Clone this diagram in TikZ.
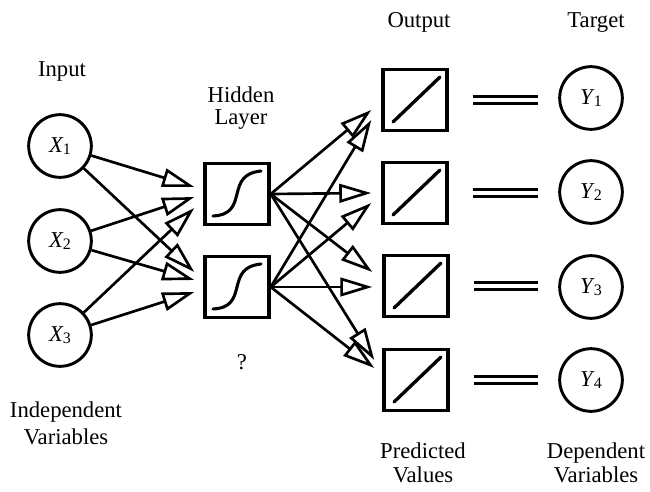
\documentclass[tikz,border=0pt]{standalone}
\usepackage{fontspec}
\setmainfont{Liberation Serif}
\usetikzlibrary{arrows.meta,calc}
\tikzset{
  sig/.pic={\draw[line width=2.3pt,line cap=round] (-24,22) .. controls (-6,21) and (-3,12) .. (0,0) .. controls (3,-12) and (6,-21) .. (24,-23);},
  lin/.pic={\draw[line width=2.5pt,line cap=round] (-22,22) -- (25,-23);}
}
\newcommand{\vlab}[2]{\textit{#1}\kern-0.8pt\raisebox{-0.25ex}{\fontsize{12}{14}\selectfont #2}}
\begin{document}
\begin{tikzpicture}[x=0.75pt,y=-0.75pt,
  lbl/.style={font=\fontsize{17}{20}\selectfont, inner sep=0pt, anchor=base},
  neuron/.style={circle, draw, line width=2.2pt, minimum size=47pt, inner sep=0pt, font=\fontsize{17}{20}\selectfont},
  unit/.style={rectangle, draw, line width=2.6pt, minimum width=48pt, minimum height=46pt, inner sep=0pt},
  conn/.style={line width=2pt, -{Triangle[open,length=24pt,width=14pt]}},
  eqline/.style={line width=2.8pt, double distance=2.4pt, shorten <=18pt, shorten >=15pt}]
\useasboundingbox (0,0) rectangle (650,492);

% input neurons
\node[neuron] (x1) at (60,146) {\vlab{X}{1}};
\node[neuron] (x2) at (60,241) {\vlab{X}{2}};
\node[neuron] (x3) at (60,335) {\vlab{X}{3}};

% hidden units
\node[unit] (h1) at (237,194) {};
\node[unit] (h2) at (237,287) {};
\pic at (h1) {sig};
\pic at (h2) {sig};

% output units
\node[unit] (o1) at (415,100) {};
\node[unit] (o2) at (415,193) {};
\node[unit] (o3) at (416,286) {};
\node[unit] (o4) at (416,380) {};
\pic at (o1) {lin};
\pic at (o2) {lin};
\pic at (o3) {lin};
\pic at (o4) {lin};

% targets
\node[neuron] (y1) at (591,98) {\vlab{Y}{1}};
\node[neuron] (y2) at (591,192) {\vlab{Y}{2}};
\node[neuron] (y3) at (591,287) {\vlab{Y}{3}};
\node[neuron] (y4) at (591,380) {\vlab{Y}{4}};

% labels
\node[lbl] (tin) at (62,77) {Input};
\node[lbl] (thid) at (241,103) {Hidden};
\node[lbl] (tlay) at (241,124) {Layer};
\node[lbl] (tq) at (242,369) {?};
\node[lbl] (tind) at (66,417) {Independent};
\node[lbl] (tvar) at (66,444) {Variables};
\node[lbl] (tout) at (419,28) {Output};
\node[lbl] (ttar) at (596,28) {Target};
\node[lbl] (tpre) at (423,458) {Predicted};
\node[lbl] (tval) at (423,482) {Values};
\node[lbl] (tdep) at (596,458) {Dependent};
\node[lbl] (tdv) at (596,482) {Variables};

% input -> hidden
\draw[conn] (x1) -- ($(h1.west)+(-9,-7)$);
\draw[conn] (x2) -- ($(h1.west)+(-9,3)$);
\draw[conn] (x3) -- ($(h1.west)+(-9,14)$);
\draw[conn] (x1) -- ($(h2.west)+(-9,-15)$);
\draw[conn] (x2) -- ($(h2.west)+(-9,-7)$);
\draw[conn] (x3) -- ($(h2.west)+(-9,5)$);

% hidden -> output
\draw[conn] (h1.east) -- ($(o1.west)+(-10,10)$);
\draw[conn] (h2.east) -- ($(o1.west)+(-10,20)$);
\draw[conn] (h1.east) -- ($(o2.west)+(-10,0)$);
\draw[conn] (h2.east) -- ($(o2.west)+(-10,10)$);
\draw[conn] (h1.east) -- ($(o3.west)+(-10,-14)$);
\draw[conn] (h2.east) -- ($(o3.west)+(-10,1)$);
\draw[conn] (h1.east) -- ($(o4.west)+(-8,-20)$);
\draw[conn] (h2.east) -- ($(o4.west)+(-8,-12)$);

% equals
\draw[eqline] (o1.east) -- (o1.east -| y1.west);
\draw[eqline] (o2.east) -- (o2.east -| y2.west);
\draw[eqline] (o3.east) -- (o3.east -| y3.west);
\draw[eqline] (o4.east) -- (o4.east -| y4.west);
\end{tikzpicture}
\end{document}
